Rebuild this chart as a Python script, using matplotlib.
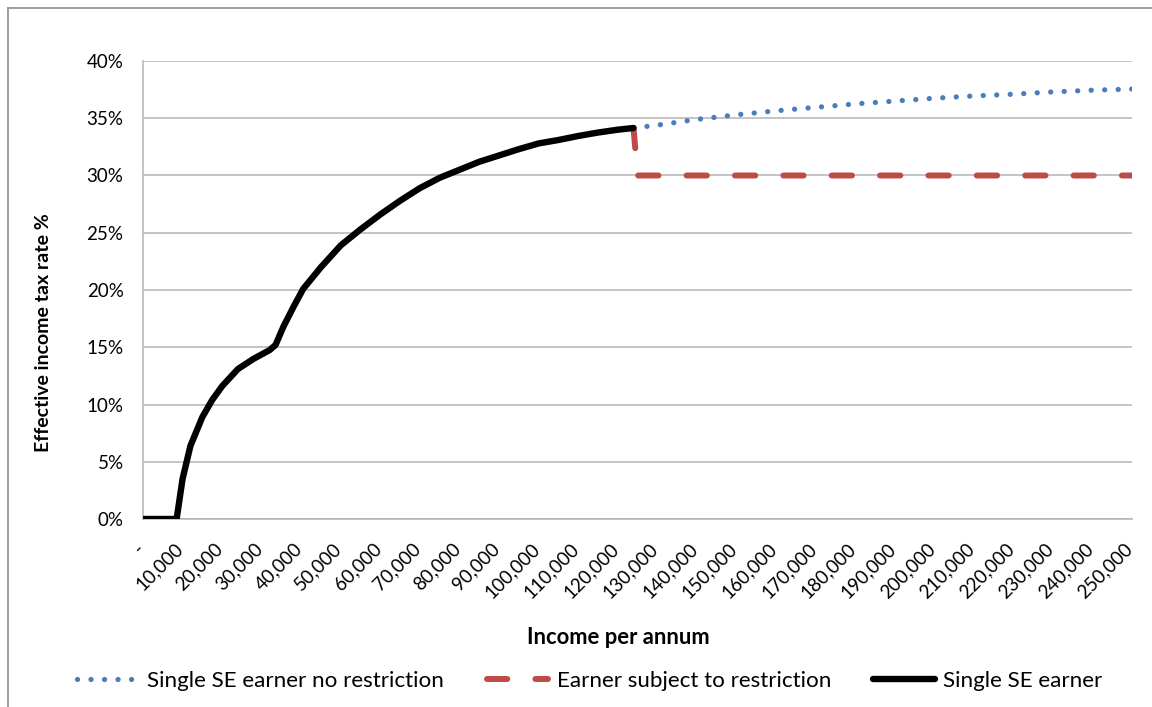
import matplotlib
matplotlib.use("Agg")
import matplotlib.pyplot as plt
from matplotlib.lines import Line2D
from matplotlib.ticker import FixedLocator, FuncFormatter
from matplotlib.transforms import ScaledTranslation

plt.rcParams["font.family"] = ["Lato", "DejaVu Sans"]

# Effective income tax rate (%) by income per annum
income_se = [0, 5000, 8500, 10000, 12000, 15000, 17500, 20000, 24000, 28000,
             32000, 33500, 35500, 38000, 40500, 45000, 50000, 55000, 60000,
             65000, 70000, 75000, 80000, 85000, 90000, 95000, 100000, 105000,
             110000, 115000, 120000, 124000]
rate_se = [0.0, 0.0, 0.0, 3.5, 6.4, 8.9, 10.4, 11.6, 13.1, 14.0,
           14.75, 15.2, 16.8, 18.5, 20.1, 22.0, 23.9, 25.3, 26.6,
           27.8, 28.9, 29.8, 30.5, 31.2, 31.75, 32.3, 32.8, 33.1,
           33.45, 33.75, 34.0, 34.15]

income_norestr = [124000, 130000, 140000, 150000, 160000, 170000, 180000,
                  190000, 200000, 210000, 220000, 230000, 240000, 250000]
rate_norestr = [34.15, 34.4, 34.9, 35.3, 35.65, 35.95, 36.25,
                36.5, 36.75, 36.95, 37.1, 37.3, 37.45, 37.55]

income_restr = [124000, 125000, 250000]
rate_restr = [34.15, 30.0, 30.0]

xticks = list(range(0, 250001, 10000))
xtick_labels = ["-"] + [f"{v:,}" for v in xticks[1:]]
yticks = [0, 5, 10, 15, 20, 25, 30, 35, 40]

W, H = 1152, 707
fig = plt.figure(figsize=(W / 100, H / 100), dpi=100)
ax = fig.add_axes([143 / W, 1 - 519 / H, (1132 - 143) / W, (519 - 61) / H])

grid_c = "#b4b4b4"
ax.plot(income_norestr, rate_norestr, color="#4a7ebb", lw=3.8,
        linestyle=(0, (0.01, 2.55)), dash_capstyle="round",
        label="Single SE earner no restriction", zorder=3)
ax.plot(income_restr, rate_restr, color="#be4b48", lw=4.3,
        linestyle=(0, (3.4, 4.7)), dash_capstyle="round",
        label="Earner subject to restriction", zorder=4)
ax.plot(income_se, rate_se, color="black", lw=4.6,
        solid_capstyle="round", solid_joinstyle="round",
        label="Single SE earner", zorder=5)

ax.set_xlim(0, 250000)
ax.set_ylim(0, 40)
ax.xaxis.set_major_locator(FixedLocator(xticks))
ax.tick_params(axis="x", length=0, labelbottom=False)

# rotated category labels, hung just below each tick
lbl_offset = ScaledTranslation(-0.02, -0.27, fig.dpi_scale_trans)
lbl_trans = ax.get_xaxis_transform() + lbl_offset
for x, txt in zip(xticks, xtick_labels):
    ax.text(x, 0, txt, transform=lbl_trans, rotation=45, ha="right",
            va="center", rotation_mode="anchor", fontsize=13.5)

ax.yaxis.set_major_locator(FixedLocator(yticks))
ax.yaxis.set_major_formatter(FuncFormatter(lambda v, p: f"{v:.0f}%"))
ax.tick_params(axis="y", length=0, pad=14, labelsize=13.5)
ax.grid(axis="y", color=grid_c, lw=1.1)
ax.set_axisbelow(True)
for side in ("top", "right"):
    ax.spines[side].set_visible(False)
for side in ("left", "bottom"):
    ax.spines[side].set_color(grid_c)
    ax.spines[side].set_linewidth(1.1)

fig.text(618 / W, 1 - 637 / H, "Income per annum", ha="center", va="center",
         fontsize=15.8, fontweight="bold")
fig.text(44 / W, 1 - 333 / H, "Effective income tax rate %", ha="center",
         va="center", rotation=90, fontsize=14, fontweight="bold")

fig.legend(loc="center", bbox_to_anchor=(590 / W, 1 - 681 / H), ncol=3,
           frameon=False, fontsize=16.1, handlelength=2.73, handletextpad=0.4,
           columnspacing=1.9)

# outer chart border
border_c = "#8c8c8c"
fig.add_artist(Line2D([8 / W, 1], [1 - 8 / H, 1 - 8 / H], color=border_c,
                      lw=1.2, transform=fig.transFigure))
fig.add_artist(Line2D([8 / W, 8 / W], [0, 1 - 8 / H], color=border_c,
                      lw=1.2, transform=fig.transFigure))

fig.savefig("out.png", dpi=100)
